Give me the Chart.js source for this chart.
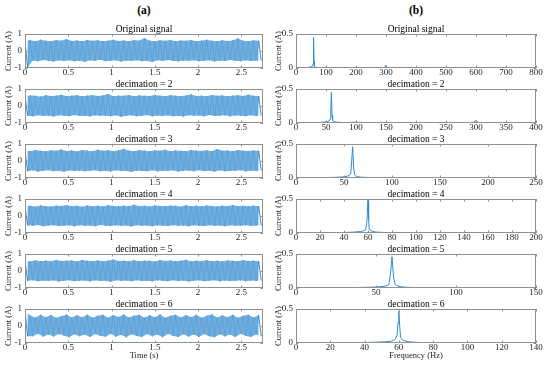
<!DOCTYPE html>
<html lang="en">
<head>
<meta charset="UTF-8">
<title>Decimation</title>
<script src="https://cdn.jsdelivr.net/npm/chart.js"></script>
<style>
  body { margin: 0; background: #fff; }
  #fig { position: relative; width: 550px; height: 385px; overflow: hidden; font-family: 'Liberation Serif', serif; }
  #fig canvas { position: absolute; }
  .tag { position: absolute; top: 3px; width: 40px; margin-left: -20px; text-align: center; font-weight: bold; font-size: 11.5px; line-height: 14px; color: #000; }
</style>
</head>
<body>
<div id="fig">
  <div class="tag" style="left:144px">(a)</div>
  <div class="tag" style="left:416px">(b)</div>
</div>
<script>
// ---- data ----
const titles = ['Original signal', 'decimation = 2', 'decimation = 3', 'decimation = 4', 'decimation = 5', 'decimation = 6'];

// time signals: upper / lower swing of each cycle (A), one value per 0.06 s
const T_STEP = 0.06;
const hi1 = [0.6,0.63,0.57,0.66,0.6,0.58,0.64,0.61,0.7,0.59,0.62,0.57,0.65,0.6,0.63,0.58,0.61,0.66,0.59,0.62,0.57,0.64,0.6,0.76,0.61,0.58,0.63,0.6,0.65,0.57,0.62,0.6,0.64,0.58,0.61,0.66,0.6,0.57,0.63,0.59,0.62,0.74,0.6,0.58,0.63,0.6];
const lo1 = [-0.95,-0.56,-0.6,-0.53,-0.58,-0.62,-0.55,-0.59,-0.54,-0.6,-0.57,-0.63,-0.55,-0.58,-0.52,-0.6,-0.57,-0.55,-0.62,-0.56,-0.59,-0.54,-0.6,-0.57,-0.65,-0.55,-0.59,-0.53,-0.58,-0.61,-0.56,-0.59,-0.54,-0.6,-0.57,-0.55,-0.62,-0.56,-0.59,-0.53,-0.58,-0.6,-0.55,-0.59,-0.56,-0.58];
const hi2 = [0.58,0.62,0.6,0.55,0.63,0.59,0.61,0.66,0.58,0.6,0.63,0.57,0.61,0.64,0.59,0.62,0.7,0.58,0.61,0.6,0.64,0.57,0.62,0.6,0.59,0.65,0.61,0.58,0.63,0.6,0.57,0.62,0.68,0.59,0.61,0.58,0.64,0.6,0.62,0.57,0.61,0.63,0.59,0.66,0.6,0.58];
const lo2 = [-0.57,-0.6,-0.54,-0.59,-0.56,-0.62,-0.55,-0.58,-0.6,-0.53,-0.59,-0.57,-0.61,-0.55,-0.58,-0.56,-0.6,-0.54,-0.63,-0.57,-0.55,-0.6,-0.58,-0.53,-0.61,-0.56,-0.59,-0.55,-0.6,-0.57,-0.62,-0.54,-0.58,-0.56,-0.6,-0.53,-0.59,-0.57,-0.55,-0.61,-0.56,-0.58,-0.6,-0.54,-0.59,-0.57];
const hi3 = [0.62,0.58,0.65,0.6,0.57,0.63,0.6,0.68,0.59,0.62,0.56,0.64,0.61,0.58,0.66,0.6,0.63,0.57,0.62,0.72,0.6,0.58,0.64,0.61,0.57,0.63,0.6,0.66,0.58,0.62,0.6,0.57,0.65,0.61,0.59,0.63,0.58,0.7,0.6,0.62,0.57,0.64,0.6,0.59,0.62,0.6];
const lo3 = [-0.6,-0.55,-0.62,-0.57,-0.54,-0.6,-0.58,-0.63,-0.55,-0.59,-0.56,-0.61,-0.57,-0.54,-0.6,-0.58,-0.62,-0.55,-0.59,-0.57,-0.64,-0.56,-0.58,-0.6,-0.54,-0.61,-0.57,-0.59,-0.55,-0.62,-0.58,-0.56,-0.6,-0.54,-0.59,-0.57,-0.63,-0.55,-0.6,-0.57,-0.58,-0.54,-0.61,-0.56,-0.59,-0.57];
const hi4 = [0.57,0.6,0.55,0.62,0.58,0.56,0.61,0.59,0.64,0.57,0.6,0.55,0.62,0.58,0.6,0.56,0.63,0.59,0.57,0.61,0.58,0.66,0.57,0.6,0.56,0.62,0.59,0.57,0.61,0.6,0.55,0.63,0.58,0.6,0.57,0.62,0.59,0.56,0.61,0.58,0.65,0.57,0.6,0.58,0.61,0.58];
const lo4 = [-0.55,-0.58,-0.53,-0.6,-0.56,-0.54,-0.59,-0.57,-0.55,-0.61,-0.54,-0.58,-0.56,-0.6,-0.53,-0.57,-0.59,-0.55,-0.58,-0.56,-0.62,-0.54,-0.58,-0.56,-0.6,-0.55,-0.57,-0.59,-0.54,-0.58,-0.56,-0.61,-0.55,-0.57,-0.59,-0.54,-0.58,-0.56,-0.6,-0.55,-0.57,-0.58,-0.54,-0.59,-0.56,-0.57];
const hi5 = [0.6,0.56,0.63,0.58,0.61,0.57,0.65,0.59,0.6,0.62,0.56,0.64,0.6,0.58,0.62,0.57,0.61,0.67,0.59,0.6,0.57,0.63,0.58,0.61,0.6,0.56,0.64,0.59,0.62,0.58,0.6,0.66,0.57,0.61,0.59,0.63,0.58,0.6,0.56,0.62,0.6,0.58,0.64,0.59,0.61,0.58];
const lo5 = [-0.58,-0.54,-0.6,-0.56,-0.59,-0.55,-0.62,-0.57,-0.54,-0.6,-0.58,-0.56,-0.61,-0.55,-0.59,-0.57,-0.63,-0.55,-0.58,-0.56,-0.6,-0.54,-0.59,-0.57,-0.61,-0.55,-0.58,-0.6,-0.54,-0.59,-0.56,-0.62,-0.57,-0.55,-0.6,-0.58,-0.54,-0.61,-0.56,-0.59,-0.57,-0.55,-0.6,-0.56,-0.58,-0.57];
const hi6 = [0.85,0.62,0.5,0.66,0.52,0.64,0.48,0.58,0.68,0.5,0.63,0.52,0.66,0.49,0.6,0.66,0.48,0.64,0.53,0.68,0.5,0.61,0.66,0.49,0.63,0.52,0.68,0.48,0.6,0.66,0.5,0.64,0.52,0.66,0.49,0.61,0.68,0.5,0.63,0.52,0.66,0.48,0.6,0.66,0.5,0.63];
const lo6 = [-0.6,-0.6,-0.46,-0.62,-0.5,-0.62,-0.47,-0.56,-0.66,-0.48,-0.6,-0.5,-0.64,-0.47,-0.58,-0.63,-0.46,-0.62,-0.52,-0.66,-0.48,-0.59,-0.64,-0.47,-0.61,-0.5,-0.66,-0.46,-0.58,-0.64,-0.48,-0.62,-0.5,-0.64,-0.47,-0.6,-0.66,-0.48,-0.61,-0.5,-0.64,-0.46,-0.58,-0.64,-0.49,-0.6];

// spectra: frequency (Hz) and amplitude (A)
const f1 = [0,5,10,20,30,40,45,50,53,55,57,58,59,60,61,62,64,67,70,80,90,100,110,120,140,160,200,240,280,292,296,298,299,300,301,302,305,310,340,400,460,520,580,640,700,745];
const a1 = [0.012,0.006,0.004,0.005,0.006,0.008,0.012,0.018,0.025,0.03,0.06,0.2,0.45,0.1,0.035,0.022,0.015,0.01,0.008,0.006,0.005,0.012,0.006,0.008,0.005,0.004,0.004,0.003,0.004,0.006,0.012,0.025,0.04,0.02,0.03,0.01,0.006,0.004,0.003,0.003,0.003,0.002,0.002,0.002,0.002,0.002];
const f2 = [0,5,10,20,30,40,48,52,55,57,58,59,60,61,63,66,70,80,100,120,150,200,250,290,296,298,300,302,305,320,350,375];
const a2 = [0.01,0.005,0.004,0.005,0.006,0.008,0.014,0.02,0.03,0.06,0.2,0.45,0.12,0.04,0.022,0.014,0.01,0.007,0.011,0.006,0.005,0.004,0.004,0.005,0.012,0.03,0.035,0.012,0.006,0.004,0.003,0.002];
const f3 = [0,5,10,20,30,40,48,52,55,57,58,59,60,61,62,64,67,70,80,100,120,150,200,230,248];
const a3 = [0.01,0.005,0.005,0.006,0.007,0.009,0.015,0.022,0.035,0.06,0.25,0.46,0.15,0.05,0.03,0.02,0.014,0.01,0.007,0.008,0.006,0.005,0.006,0.004,0.003];
const f4 = [0,5,10,20,30,40,45,50,54,56,58,59,59.5,60,60.5,61,62,64,66,70,75,80,100,120,150,185];
const a4 = [0.01,0.004,0.004,0.005,0.006,0.008,0.01,0.015,0.022,0.03,0.05,0.15,0.3,0.52,0.2,0.06,0.035,0.025,0.015,0.01,0.008,0.006,0.005,0.005,0.004,0.003];
const f5 = [0,5,10,20,30,40,48,52,55,57,58,59,60,61,62,63,65,68,72,80,100,120,148];
const a5 = [0.01,0.004,0.005,0.005,0.006,0.008,0.012,0.018,0.025,0.035,0.05,0.2,0.46,0.15,0.05,0.035,0.02,0.012,0.008,0.006,0.005,0.004,0.003];
const f6 = [0,5,10,20,30,40,48,52,55,57,58,59,59.5,60,60.5,61,62,63,65,68,72,80,100,125];
const a6 = [0.01,0.004,0.004,0.005,0.006,0.008,0.012,0.018,0.025,0.04,0.06,0.12,0.3,0.47,0.25,0.08,0.05,0.035,0.02,0.012,0.008,0.006,0.004,0.003];

// axes
const timeMax = 2.75;
const timeTicks = [0, 0.5, 1, 1.5, 2, 2.5];
const sigTicks = [-1, 0, 1];
const specTicksY = [0, 0.5];
const specMax = [800, 400, 250, 200, 150, 140];
const specTicks = [
  [0, 100, 200, 300, 400, 500, 600, 700, 800],
  [0, 50, 100, 150, 200, 250, 300, 350, 400],
  [0, 50, 100, 150, 200, 250],
  [0, 20, 40, 60, 80, 100, 120, 140, 160, 180, 200],
  [0, 50, 100, 150],
  [0, 20, 40, 60, 80, 100, 120, 140]
];

const sigHi = [hi1, hi2, hi3, hi4, hi5, hi6];
const sigLo = [lo1, lo2, lo3, lo4, lo5, lo6];
const specF = [f1, f2, f3, f4, f5, f6];
const specA = [a1, a2, a3, a4, a5, a6];

// ---- layout ----
const ROW_TOP = 34, ROW_GAP = 55, PLOT_H = 34;
const COL_X = [25, 296], PLOT_W = [238, 240];
const Y_W = 25, TOP_PAD = 14, RIGHT_PAD = 12;
const FAMILY = "'Liberation Serif', 'Times New Roman', serif";
const TICK_FONT = { family: FAMILY, size: 9, lineHeight: 1 };
const LABEL_FONT = { family: FAMILY, size: 8.5, lineHeight: 1.2 };
const TEXT = '#262626';
const BOX = '#909090';
const BAND = 'rgba(95,165,220,0.9)';
const ZIG = 'rgba(0,95,175,0.8)';
const SPEC = '#2d8bd0';

// matlab-like box with inward ticks and the subplot title
const mplBox = {
  id: 'mplBox',
  afterDatasetsDraw(chart, args, opts) {
    const { ctx, chartArea: a, scales: { x, y } } = chart;
    ctx.save();
    ctx.strokeStyle = BOX;
    ctx.lineWidth = 1;
    ctx.beginPath();
    x.ticks.forEach(t => {
      const px = Math.round(x.getPixelForValue(t.value)) + 0.5;
      ctx.moveTo(px, a.bottom); ctx.lineTo(px, a.bottom - 2.5);
      ctx.moveTo(px, a.top); ctx.lineTo(px, a.top + 2.5);
    });
    y.ticks.forEach(t => {
      const py = Math.round(y.getPixelForValue(t.value)) + 0.5;
      ctx.moveTo(a.left, py); ctx.lineTo(a.left + 2.5, py);
      ctx.moveTo(a.right, py); ctx.lineTo(a.right - 2.5, py);
    });
    ctx.stroke();
    ctx.strokeRect(Math.round(a.left) + 0.5, Math.round(a.top) + 0.5,
      Math.round(a.right - a.left) - 1, Math.round(a.bottom - a.top) - 1);
    ctx.fillStyle = '#000';
    ctx.font = "9.5px " + FAMILY;
    ctx.textAlign = 'center';
    ctx.textBaseline = 'middle';
    ctx.fillText(opts.title, (a.left + a.right) / 2, a.top - 5);
    ctx.restore();
  }
};

const fig = document.getElementById('fig');

function makePanel(col, row, datasets, xMax, xTicks, yMin, yMax, yTicks, xTitle) {
  const xh = xTitle ? 24 : 12;
  const w = Y_W + PLOT_W[col] + RIGHT_PAD;
  const h = TOP_PAD + PLOT_H + xh;
  const canvas = document.createElement('canvas');
  canvas.width = w; canvas.height = h;
  canvas.style.left = (COL_X[col] - Y_W) + 'px';
  canvas.style.top = (ROW_TOP + ROW_GAP * row - TOP_PAD) + 'px';
  canvas.style.width = w + 'px';
  canvas.style.height = h + 'px';
  fig.appendChild(canvas);

  new Chart(canvas, {
    type: 'line',
    data: { datasets },
    options: {
      responsive: false,
      animation: false,
      devicePixelRatio: 1,
      layout: { padding: { top: TOP_PAD, right: RIGHT_PAD, left: 0, bottom: 0 } },
      plugins: { legend: { display: false }, tooltip: { enabled: false }, mplBox: { title: titles[row] } },
      elements: { point: { radius: 0 }, line: { tension: 0 } },
      scales: {
        x: {
          type: 'linear', min: 0, max: xMax,
          grid: { display: false, drawTicks: false }, border: { display: false },
          afterBuildTicks: s => { s.ticks = xTicks.map(v => ({ value: v })); },
          afterFit: s => { s.height = xh; s.paddingLeft = 0; s.paddingRight = 0; },
          ticks: { font: TICK_FONT, color: TEXT, padding: 0, maxRotation: 0, autoSkip: false, callback: v => String(v) },
          title: { display: !!xTitle, text: xTitle || '', font: LABEL_FONT, color: TEXT, padding: { top: 0, bottom: 6 } }
        },
        y: {
          type: 'linear', min: yMin, max: yMax,
          grid: { display: false, drawTicks: false }, border: { display: false },
          afterBuildTicks: s => { s.ticks = yTicks.map(v => ({ value: v })); },
          afterFit: s => { s.width = Y_W; s.paddingTop = 0; s.paddingBottom = 0; },
          ticks: { font: TICK_FONT, color: TEXT, padding: 3, autoSkip: false, callback: v => String(v) },
          title: { display: true, text: 'Current (A)', font: LABEL_FONT, color: TEXT, padding: { top: col ? 2.5 : 4, bottom: 0 } }
        }
      }
    },
    plugins: [mplBox]
  });
}

for (let r = 0; r < 6; r++) {
  const last = r === 5;
  // (a) time signal: band between swings + zigzag through them
  const upper = sigHi[r].map((v, i) => ({ x: i * T_STEP, y: v }));
  const lower = sigLo[r].map((v, i) => ({ x: i * T_STEP + T_STEP / 2, y: v }));
  const zig = [];
  upper.forEach((p, i) => { zig.push(p); zig.push(lower[i]); });
  makePanel(0, r, [
    { data: upper, borderColor: 'transparent', borderWidth: 1, fill: '+1', backgroundColor: BAND },
    { data: lower, borderColor: 'transparent', borderWidth: 1, fill: false },
    { data: zig, borderColor: ZIG, borderWidth: 0.9, fill: false }
  ], timeMax, timeTicks, -1, 1, sigTicks, last ? 'Time (s)' : '');

  // (b) spectrum
  const spec = specF[r].map((f, i) => ({ x: f, y: specA[r][i] }));
  makePanel(1, r, [
    { data: spec, borderColor: SPEC, borderWidth: 1, fill: false }
  ], specMax[r], specTicks[r], 0, 0.5, specTicksY, last ? 'Frequency (Hz)' : '');
}
</script>
</body>
</html>
